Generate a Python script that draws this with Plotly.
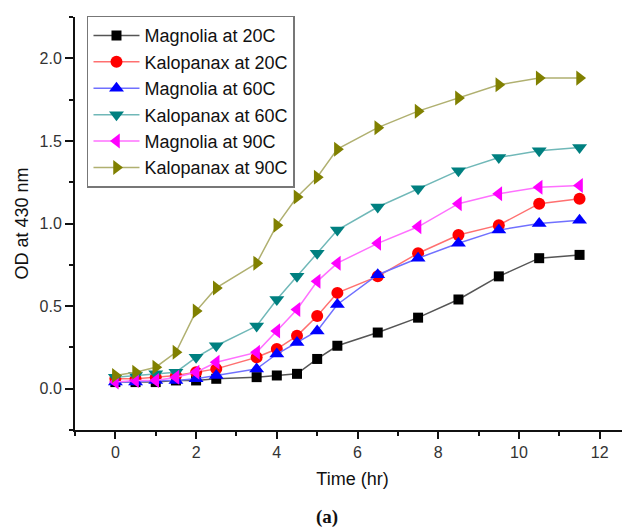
import plotly.graph_objects as go

time_hr = [0, 0.5, 1, 1.5, 2, 2.5, 3.5, 4, 4.5, 5, 5.5, 6.5, 7.5, 8.5, 9.5, 10.5, 11.5]

magnolia_20 = [0.04, 0.04, 0.04, 0.05, 0.05, 0.06, 0.07, 0.08, 0.09, 0.18, 0.26, 0.34, 0.43, 0.54, 0.68, 0.79, 0.81]
kalopanax_20 = [0.06, 0.06, 0.07, 0.08, 0.10, 0.12, 0.19, 0.24, 0.32, 0.44, 0.58, 0.68, 0.82, 0.93, 0.99, 1.12, 1.15]
magnolia_60 = [0.04, 0.04, 0.05, 0.05, 0.06, 0.08, 0.12, 0.21, 0.28, 0.35, 0.51, 0.69, 0.79, 0.88, 0.96, 1.00, 1.02]
kalopanax_60 = [0.07, 0.08, 0.09, 0.10, 0.19, 0.26, 0.38, 0.54, 0.68, 0.82, 0.96, 1.10, 1.21, 1.32, 1.40, 1.44, 1.46]
magnolia_90 = [0.04, 0.05, 0.05, 0.07, 0.10, 0.16, 0.22, 0.35, 0.48, 0.65, 0.76, 0.88, 0.98, 1.12, 1.18, 1.22, 1.23]
kalopanax_90 = [0.08, 0.10, 0.13, 0.22, 0.47, 0.61, 0.76, 0.99, 1.16, 1.28, 1.45, 1.58, 1.68, 1.76, 1.84, 1.88, 1.88]

series_names = ["Magnolia at 20C", "Kalopanax at 20C", "Magnolia at 60C",
                "Kalopanax at 60C", "Magnolia at 90C", "Kalopanax at 90C"]
series_values = [magnolia_20, kalopanax_20, magnolia_60, kalopanax_60, magnolia_90, kalopanax_90]

marker_colors = ["#000000", "#ff0000", "#0000ff", "#008080", "#ff00ff", "#808000"]
line_colors = ["#555555", "#ff7070", "#7070ff", "#70b8b8", "#ff70ff", "#b0b070"]
symbols = ["square", "circle", "triangle-up", "triangle-down", "triangle-left", "triangle-right"]
sizes = [10, 12, 13, 13, 13, 13]

FONT = "Arial, Liberation Sans, sans-serif"

fig = go.Figure()
for name, vals, mc, lc, sym, sz in zip(series_names, series_values, marker_colors,
                                        line_colors, symbols, sizes):
    fig.add_trace(go.Scatter(
        x=time_hr, y=vals, name=name, mode="lines+markers",
        line=dict(color=lc, width=1.5),
        marker=dict(symbol=sym, size=sz, color=mc, line=dict(width=0)),
    ))

# page body has an 8px default margin, so the figure is laid out 8px smaller/offset
fig.update_layout(
    width=622, height=521,
    margin=dict(l=67, r=0, t=9, b=99),
    paper_bgcolor="white", plot_bgcolor="white",
    font=dict(family=FONT, size=16, color="#222222"),
    showlegend=True,
    legend=dict(
        x=0.0216, y=1.003, xanchor="left", yanchor="top",
        bordercolor="#777777", borderwidth=1.5, bgcolor="white",
        font=dict(family=FONT, size=18, color="#111111"),
        tracegroupgap=0, itemwidth=46,
    ),
    xaxis=dict(
        range=[-1, 12.75], tick0=0, dtick=2,
        showgrid=False, zeroline=False,
        showline=True, linecolor="#111111", linewidth=2,
        ticks="outside", ticklen=7, tickwidth=2, tickcolor="#111111",
        minor=dict(dtick=1, tick0=1, ticks="outside", ticklen=4, tickwidth=1.5, tickcolor="#111111"),
        title=dict(text="Time (hr)", font=dict(family=FONT, size=18, color="#111111"), standoff=12),
        tickfont=dict(family=FONT, size=16, color="#333333"),
    ),
    yaxis=dict(
        range=[-0.25, 2.25], tick0=0, dtick=0.5, tickformat=".1f",
        showgrid=False, zeroline=False,
        showline=True, linecolor="#111111", linewidth=2,
        ticks="outside", ticklen=8, tickwidth=2, tickcolor="#111111",
        minor=dict(dtick=0.25, ticks="outside", ticklen=4, tickwidth=1.5, tickcolor="#111111"),
        title=dict(text="OD at 430 nm", font=dict(family=FONT, size=18, color="#111111"), standoff=6),
        tickfont=dict(family=FONT, size=16, color="#333333"),
    ),
    annotations=[dict(
        text="<b>(a)</b>", xref="paper", yref="paper", x=0.454, y=-0.211,
        xanchor="center", yanchor="middle", showarrow=False,
        font=dict(family="Liberation Serif, Times New Roman, serif", size=19, color="#111111"),
    )],
)

fig.write_html("out.html")
